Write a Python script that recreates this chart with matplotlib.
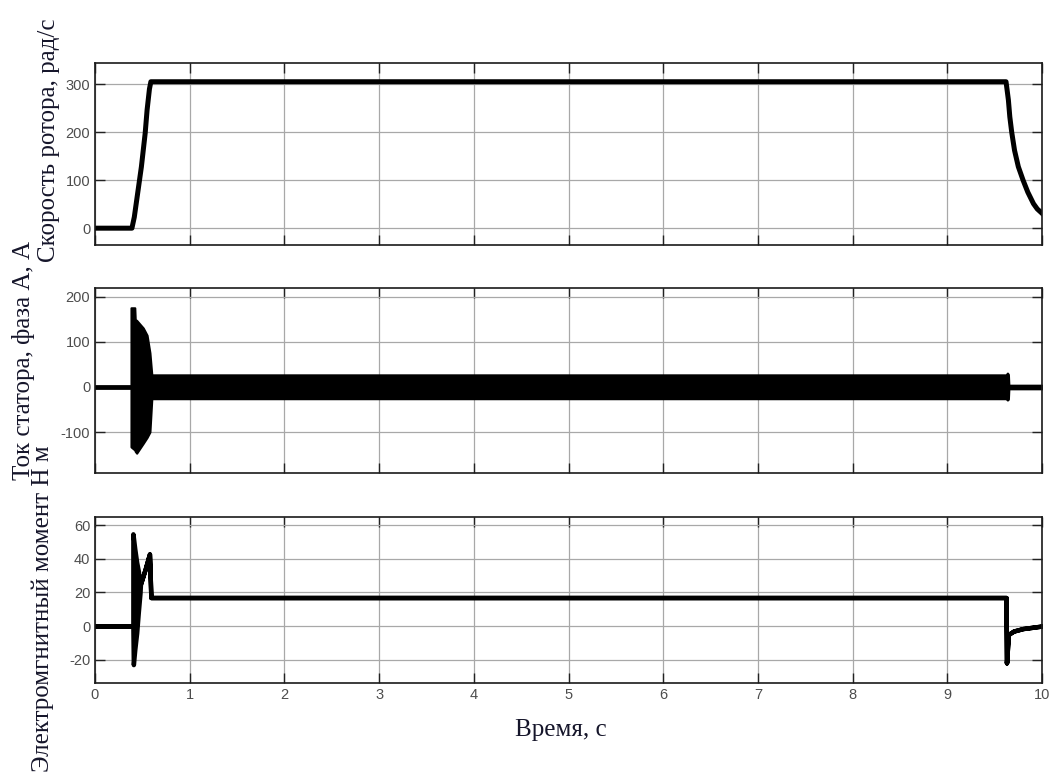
import matplotlib
matplotlib.use("Agg")
import matplotlib.pyplot as plt

plt.rcParams["axes.unicode_minus"] = False


# ==========================
# DATA
# ==========================

# rotor speed, rad/s
speed_t = [0, 0.39, 0.415, 0.44, 0.49, 0.53, 0.55, 0.575, 0.59,
           9.62, 9.63, 9.645, 9.66, 9.68, 9.71, 9.75, 9.80, 9.85, 9.91, 9.95, 10.0]
speed_w = [0, 0, 23, 58, 128, 198, 246, 290, 305,
           305, 290, 267, 232, 200, 162, 128, 100, 75, 51, 40, 31]

# stator current phase A, envelope of the 50 Hz oscillation
cur_t = [0, 0.38, 0.38, 0.42, 0.425, 0.44, 0.51, 0.55, 0.58, 0.60, 9.62, 9.635, 9.645, 9.65, 10.0]
cur_hi = [3, 3, 176, 176, 150, 148, 131, 115, 76, 27, 27, 31, 28, 4, 4]
cur_lo = [-3, -3, -133, -140, -143, -147, -125, -112, -100, -26, -26, -29, -27, -4, -4]

# electromagnetic torque, N*m (envelope)
tq_t = [0, 0.40, 0.40, 0.405, 0.42, 0.44, 0.457, 0.475, 0.48, 0.53, 0.575, 0.59,
        9.62, 9.625, 9.645, 9.70, 9.80, 10.0]
tq_hi = [0, 0, 55, 53, 46, 38, 33, 25.5, 25, 34, 43, 17, 17, -22, -5, -3, -1.5, 0]
tq_lo = [0, 0, 0, -23, -14, -4, 8, 19.6, 25, 34, 43, 17, 17, -22, -5, -3, -1.5, 0]

x_ticks = list(range(0, 11))


# ==========================
# FIGURE
# ==========================

fig = plt.figure(figsize=(10.52, 7.76), dpi=100)

ax1 = fig.add_axes([0.0903, 0.6843, 0.9002, 0.2345])
ax2 = fig.add_axes([0.0903, 0.3905, 0.9002, 0.2384])
ax3 = fig.add_axes([0.0903, 0.1198, 0.9002, 0.2139])

label_font = {"family": "Liberation Serif", "size": 18}
label_color = "#15152a"

for ax in (ax1, ax2, ax3):
    ax.set_xlim(0, 10)
    ax.set_xticks(x_ticks)
    ax.grid(True, color="#a8a8a8", linewidth=0.9)
    ax.set_axisbelow(True)
    ax.tick_params(direction="in", length=7, width=1.0, color="#222222",
                   top=True, right=True, labelcolor="#4d4d4d", labelsize=10.5)
    for sp in ax.spines.values():
        sp.set_linewidth(1.2)
        sp.set_color("#1a1a1a")


# speed
ax1.plot(speed_t, speed_w, color="black", linewidth=3.6)
ax1.set_ylim(-35, 344)
ax1.set_yticks([0, 100, 200, 300])
ax1.set_xticklabels([])

# current
ax2.fill_between(cur_t, cur_lo, cur_hi, color="black", edgecolor="black", linewidth=1.5)
ax2.set_ylim(-191, 220)
ax2.set_yticks([-100, 0, 100, 200])
ax2.set_xticklabels([])

# torque
ax3.fill_between(tq_t, tq_lo, tq_hi, color="black", edgecolor="black", linewidth=3.2)
ax3.set_ylim(-34, 65)
ax3.set_yticks([-20, 0, 20, 40, 60])

for ax in (ax1, ax2, ax3):
    for lab in ax.get_xticklabels() + ax.get_yticklabels():
        lab.set_family("Liberation Sans")


# ==========================
# LABELS
# ==========================

fig.text(0.0466, 0.8196, "Скорость ротора, рад/с", rotation=90,
         ha="center", va="center", color=label_color, **label_font)
fig.text(0.0228, 0.5348, "Ток статора, фаза А, А", rotation=90,
         ha="center", va="center", color=label_color, **label_font)
fig.text(0.0409, 0.215, "Электромгнитный момент Н м", rotation=90,
         ha="center", va="center", color=label_color, **label_font)

fig.text(0.533, 0.059, "Время, с", ha="center", va="center",
         color=label_color, **label_font)


plt.savefig("out.png", dpi=100)
plt.close()
